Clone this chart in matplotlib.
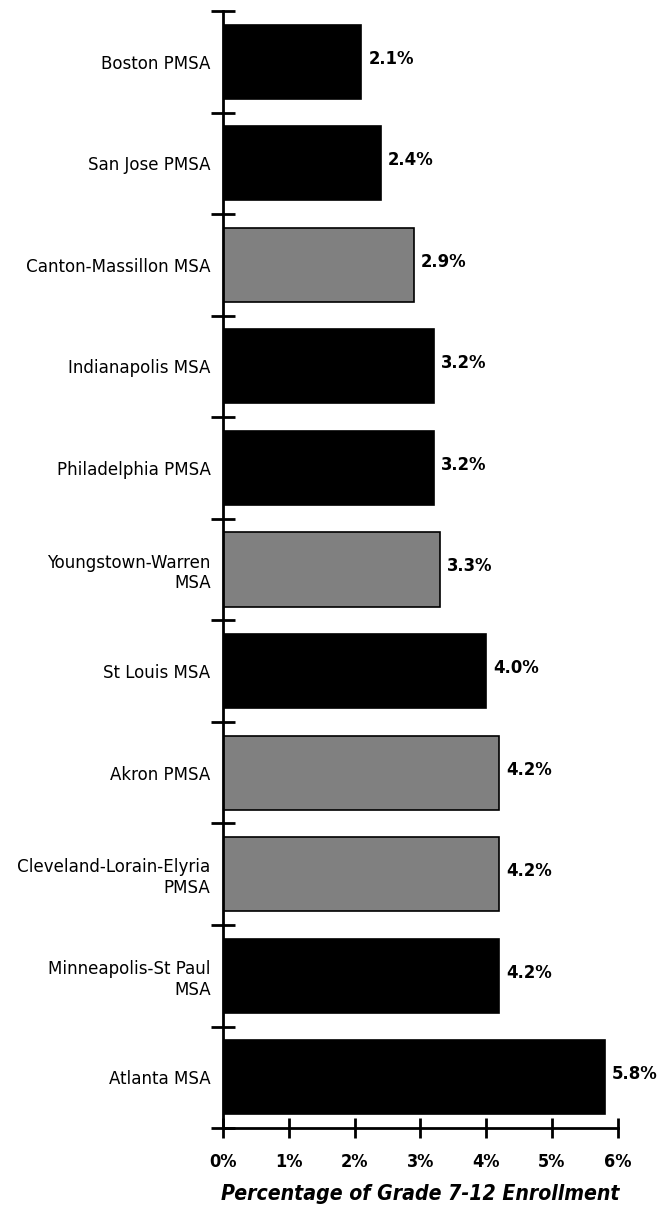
import matplotlib
matplotlib.use("Agg")
import matplotlib.pyplot as plt
from matplotlib import font_manager

# Metro areas, ordered top to bottom
areas = [
    "Boston PMSA",
    "San Jose PMSA",
    "Canton-Massillon MSA",
    "Indianapolis MSA",
    "Philadelphia PMSA",
    "Youngstown-Warren\nMSA",
    "St Louis MSA",
    "Akron PMSA",
    "Cleveland-Lorain-Elyria\nPMSA",
    "Minneapolis-St Paul\nMSA",
    "Atlanta MSA",
]
values = [2.1, 2.4, 2.9, 3.2, 3.2, 3.3, 4.0, 4.2, 4.2, 4.2, 5.8]
is_ohio = [False, False, True, False, False, True, False, True, True, False, False]
x_ticks = [0, 1, 2, 3, 4, 5, 6]
x_tick_labels = ["0%", "1%", "2%", "3%", "4%", "5%", "6%"]
x_title = "Percentage of Grade 7-12 Enrollment"

# prefer a narrow sans face when one is available
fonts = font_manager.fontManager.ttflist
names = {f.name for f in fonts}
stretch = "normal"
if "Liberation Sans Narrow" in names:
    fam = "Liberation Sans Narrow"
elif any(f.name == "DejaVu Sans" and str(f.stretch) in ("condensed", "semi-condensed")
         for f in fonts):
    fam = "DejaVu Sans"
    stretch = "condensed"
else:
    fam = "Roboto"
plt.rcParams["font.family"] = [fam, "DejaVu Sans"]
plt.rcParams["font.stretch"] = stretch

fig = plt.figure(figsize=(6.6, 12.07), dpi=100)
ax = fig.add_axes([0.338, 0.0654, 0.598, 0.9255])

n = len(areas)
ypos = list(range(n))
colors = ["#808080" if o else "#000000" for o in is_ohio]
ax.barh(ypos, values, height=0.73, color=colors, edgecolor="#000000", linewidth=1.2)

for y, v in zip(ypos, values):
    ax.text(v + 0.11, y - 0.03, f"{v:.1f}%", ha="left", va="center",
            fontsize=13.2, fontweight="bold")

ax.set_ylim(n - 0.5, -0.5)
ax.set_xlim(0, 6)

# boundary ticks on the category axis, labels centred between them
ax.set_yticks([i - 0.5 for i in range(n + 1)])
ax.set_yticklabels([])
ax.set_yticks(ypos, minor=True)
ax.set_yticklabels(areas, minor=True, fontsize=13.3, ha="right")
ax.tick_params(axis="y", which="major", direction="inout", length=17, width=2)
ax.tick_params(axis="y", which="minor", length=0, pad=9)

ax.set_xticks(x_ticks)
ax.set_xticklabels(x_tick_labels, fontsize=13, fontweight="bold")
ax.tick_params(axis="x", direction="inout", length=14, width=2, pad=11)
ax.set_xlabel(x_title, fontsize=15.2, fontweight="bold", style="italic", labelpad=9)

for s in ["top", "right"]:
    ax.spines[s].set_visible(False)
for s in ["left", "bottom"]:
    ax.spines[s].set_linewidth(2)

fig.savefig("out.png", dpi=100)
